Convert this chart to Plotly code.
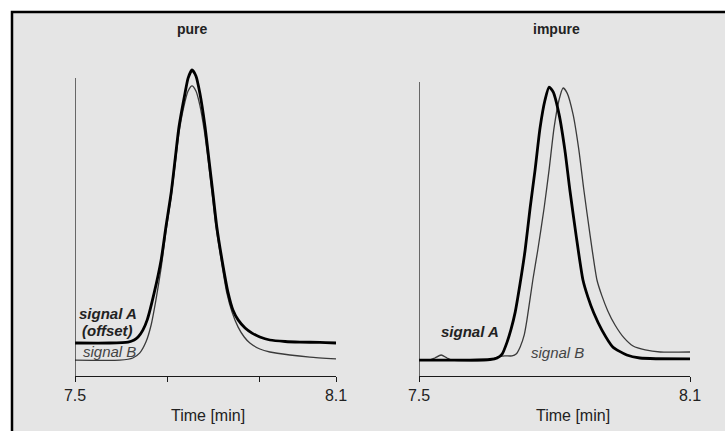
import plotly.graph_objects as go

# ---- data (time in min, intensity in arbitrary units) ----
pure_a_time = [7.500, 7.580, 7.622, 7.636, 7.645, 7.656, 7.666, 7.682, 7.698, 7.709, 7.721, 7.730,
               7.739, 7.753, 7.760, 7.769, 7.778, 7.787, 7.799, 7.808, 7.817, 7.826, 7.838, 7.852,
               7.863, 7.875, 7.891, 7.907, 7.925, 7.948, 7.983, 8.017, 8.063, 8.100]
pure_a_int = [11.0, 11.0, 11.3, 12.0, 13.0, 15.3, 18.7, 27.7, 38.7, 49.7, 61.0, 72.0,
              83.0, 94.3, 99.3, 102.0, 100.0, 94.3, 83.0, 72.0, 61.0, 49.7, 38.7, 27.7,
              22.0, 18.7, 16.0, 14.3, 13.0, 12.0, 11.5, 11.3, 11.2, 11.0]

pure_b_time = [7.500, 7.603, 7.633, 7.649, 7.663, 7.675, 7.686, 7.698, 7.709, 7.721, 7.730, 7.739,
               7.751, 7.760, 7.769, 7.778, 7.787, 7.797, 7.806, 7.815, 7.824, 7.836, 7.849, 7.861,
               7.875, 7.889, 7.902, 7.925, 7.948, 7.994, 8.040, 8.100]
pure_b_int = [5.3, 5.3, 6.0, 7.7, 11.3, 17.0, 25.3, 36.0, 48.0, 59.7, 70.3, 81.0,
              90.3, 95.0, 96.7, 95.0, 90.3, 82.0, 72.0, 61.0, 49.7, 38.7, 27.7, 21.3,
              16.3, 13.0, 11.0, 9.0, 8.0, 7.0, 6.3, 5.7]

impure_a_time = [7.500, 7.613, 7.657, 7.673, 7.684, 7.695, 7.704, 7.713, 7.724, 7.735, 7.746, 7.757,
                 7.768, 7.779, 7.788, 7.797, 7.810, 7.823, 7.834, 7.848, 7.863, 7.874, 7.887, 7.905,
                 7.929, 7.960, 7.989, 8.100]
impure_a_int = [5.3, 5.3, 5.5, 6.0, 7.3, 11.3, 15.7, 21.3, 31.0, 42.0, 56.0, 68.7,
                82.7, 92.0, 96.3, 94.7, 87.3, 75.3, 62.0, 46.7, 32.0, 26.3, 21.0, 15.3,
                9.7, 7.0, 6.0, 5.7]

impure_b_time = [7.500, 7.524, 7.535, 7.549, 7.562, 7.573, 7.657, 7.673, 7.690, 7.706, 7.715, 7.724,
                 7.733, 7.739, 7.752, 7.763, 7.777, 7.788, 7.799, 7.810, 7.819, 7.828, 7.841, 7.854,
                 7.865, 7.879, 7.894, 7.905, 7.918, 7.934, 7.954, 7.974, 8.001, 8.034, 8.100]
impure_b_int = [5.3, 5.3, 6.0, 7.0, 6.0, 5.3, 5.3, 6.3, 6.7, 6.7, 7.3, 9.7,
                13.7, 18.7, 32.0, 42.0, 56.0, 68.7, 82.7, 92.0, 96.0, 94.3, 87.3, 75.3,
                62.0, 46.7, 32.0, 26.7, 21.7, 17.0, 12.7, 10.0, 8.7, 8.0, 8.0]

x_range = [7.5, 8.1]
left_tickvals = [7.5, 7.7115, 7.923, 8.1]
left_ticktext = ["7.5", "", "", "8.1"]
right_tickvals = [7.5, 8.1]
right_ticktext = ["7.5", "8.1"]
y_top = 105.33
left_axis_top = 99.3
right_axis_top = 98.0

FONT = "Liberation Sans, Arial, sans-serif"
W, H = 725, 431

fig = go.Figure()
thick = dict(color="#000000", width=2.8, shape="spline", smoothing=0.6)
thin = dict(color="#3a3a3a", width=1.3, shape="spline", smoothing=0.6)

fig.add_trace(go.Scatter(x=pure_b_time, y=pure_b_int, mode="lines", line=thin, xaxis="x", yaxis="y"))
fig.add_trace(go.Scatter(x=pure_a_time, y=pure_a_int, mode="lines", line=thick, xaxis="x", yaxis="y"))
fig.add_trace(go.Scatter(x=impure_b_time, y=impure_b_int, mode="lines", line=thin, xaxis="x2", yaxis="y2"))
fig.add_trace(go.Scatter(x=impure_a_time, y=impure_a_int, mode="lines", line=thick, xaxis="x2", yaxis="y2"))

xcommon = dict(range=x_range, showline=True, linecolor="#1a1a1a", linewidth=1.2, ticks="outside",
               ticklen=5, tickcolor="#1a1a1a", tickwidth=1.2, showgrid=False, zeroline=False,
               automargin=False,
               tickfont=dict(family=FONT, size=16, color="#222222"), fixedrange=True)
ycommon = dict(range=[0, y_top], showline=False, showticklabels=False, showgrid=False,
               zeroline=False, ticks="", automargin=False, domain=[55 / H, 371 / H])

fig.update_layout(
    width=W, height=H,
    autosize=False,
    margin=dict(l=0, r=0, t=0, b=0, pad=0, autoexpand=False),
    paper_bgcolor="white",
    plot_bgcolor="rgba(0,0,0,0)",
    showlegend=False,
    xaxis=dict(domain=[75 / W, 336 / W], tickvals=left_tickvals, ticktext=left_ticktext, anchor="y", **xcommon),
    yaxis=dict(anchor="x", **ycommon),
    xaxis2=dict(domain=[419 / W, 690 / W], tickvals=right_tickvals, ticktext=right_ticktext, anchor="y2", **xcommon),
    yaxis2=dict(anchor="x2", **ycommon),
)

# background frame
fig.add_shape(type="rect", xref="paper", yref="paper", x0=12 / W, x1=1.02, y0=-0.02, y1=(H - 12) / H,
              fillcolor="#e5e5e5", line=dict(color="black", width=2.5), layer="below")
# vertical axis lines
fig.add_shape(type="line", xref="x", yref="y", x0=x_range[0], x1=x_range[0], y0=0, y1=left_axis_top,
              line=dict(color="#111111", width=1.2))
fig.add_shape(type="line", xref="x2", yref="y2", x0=x_range[0], x1=x_range[0], y0=0, y1=right_axis_top,
              line=dict(color="#111111", width=1.2))

def ann(text, x, y, size, color="#222222"):
    fig.add_annotation(text=text, x=x / W, y=(H - y) / H, xref="paper", yref="paper",
                       showarrow=False, xanchor="center", yanchor="middle",
                       font=dict(family=FONT, size=size, color=color))

ann("<b>pure</b>", 192, 29, 14)
ann("<b>impure</b>", 556, 29, 14)
ann("Time [min]", 208, 415, 16)
ann("Time [min]", 573, 415, 16)
ann("<b><i>signal A</i></b>", 108, 313, 15)
ann("<b><i>(offset)</i></b>", 108, 330, 15)
ann("<i>signal B</i>", 109, 351, 15, "#444444")
ann("<b><i>signal A</i></b>", 470, 331, 15)
ann("<i>signal B</i>", 557, 352, 15, "#444444")

fig.write_html(
    "out.html",
    config={"displayModeBar": False},
    post_script="document.body.style.margin='0px';document.body.style.overflow='hidden';",
)
